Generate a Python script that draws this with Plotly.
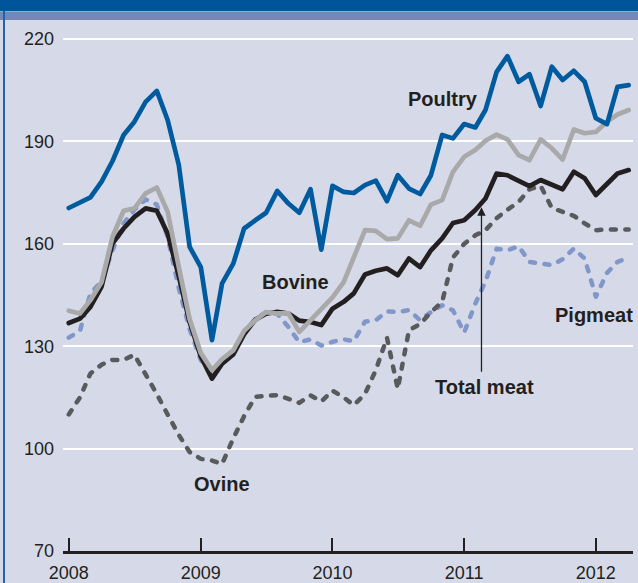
import plotly.graph_objects as go
import pandas as pd

# ---- data (monthly, Jan 2008 - Apr 2012) ----
months = [d.strftime("%Y-%m-%d") for d in pd.date_range("2008-01-01", periods=52, freq="MS")]

poultry = [170.5, 172.0, 173.6, 178.2, 184.2, 191.9, 195.8, 201.6, 204.8, 196.3,
           183.1, 159.1, 153.2, 131.8, 148.4, 154.2, 164.5, 166.9, 169.1, 175.5,
           171.8, 169.1, 176.0, 158.3, 177.0, 175.2, 174.9, 177.2, 178.5, 172.5,
           180.1, 176.2, 174.6, 180.1, 191.9, 190.9, 195.1, 194.1, 199.2, 210.4,
           215.0, 207.5, 209.7, 200.4, 211.9, 208.0, 210.7, 207.5, 196.8, 195.1,
           206.0, 206.5]

bovine = [140.4, 139.6, 143.5, 148.8, 162.0, 169.7, 170.4, 174.8, 176.5, 169.4,
          153.2, 138.0, 128.0, 123.0, 126.2, 128.8, 134.5, 137.6, 140.0, 139.6,
          139.6, 134.2, 137.6, 141.0, 144.3, 148.8, 156.2, 164.0, 163.8, 161.4,
          161.6, 166.9, 165.3, 171.5, 172.8, 181.1, 185.5, 187.5, 190.2, 192.0,
          190.6, 186.0, 184.5, 190.6, 188.0, 184.7, 193.5, 192.4, 192.8, 195.8,
          197.9, 199.2]

total_meat = [136.8, 138.1, 141.5, 147.5, 160.1, 164.5, 167.9, 170.4, 169.7, 163.0,
              150.5, 137.0, 127.0, 120.5, 124.9, 127.6, 133.5, 137.8, 139.5, 140.1,
              139.6, 137.5, 137.1, 136.2, 141.0, 143.0, 145.5, 151.0, 152.1, 152.8,
              150.8, 155.7, 153.2, 158.1, 161.6, 166.1, 166.9, 169.9, 173.3, 180.6,
              180.1, 178.5, 176.9, 178.7, 177.2, 176.0, 181.1, 179.2, 174.3, 177.7,
              180.6, 181.6]

pigmeat = [132.5, 134.5, 145.5, 149.0, 158.0, 166.0, 170.0, 173.0, 171.5, 162.0,
           147.0, 135.0, 126.0, 121.5, 125.5, 128.0, 134.0, 138.0, 140.0, 139.5,
           135.6, 131.2, 132.0, 130.2, 131.3, 132.0, 131.5, 137.2, 137.6, 140.2,
           140.0, 140.6, 137.6, 140.0, 142.0, 140.5, 134.0, 142.5, 149.0, 158.6,
           158.1, 159.3, 154.7, 154.2, 153.8, 155.5, 158.6, 155.7, 144.5, 151.5,
           154.7, 156.0]

ovine = [110.0, 115.0, 122.0, 124.6, 126.0, 126.0, 127.5, 122.0, 116.0, 110.0,
         104.0, 99.0, 97.0, 96.5, 95.5, 103.0, 109.5, 115.2, 115.5, 115.7,
         114.6, 113.4, 115.6, 113.8, 117.0, 115.0, 112.7, 116.0, 123.0, 132.5,
         117.5, 134.7, 136.5, 140.0, 143.0, 156.0, 160.0, 162.5, 164.0, 167.5,
         170.0, 172.3, 176.0, 177.0, 170.5, 169.3, 168.2, 166.0, 164.0, 164.2,
         164.2, 164.2]

year_ticks = ["2008-01-01", "2009-01-01", "2010-01-01", "2011-01-01", "2012-01-01"]
year_labels = ["2008", "2009", "2010", "2011", "2012"]
y_ticks = [70, 100, 130, 160, 190, 220]

# ---- styling ----
BG = "#D6DAE8"
TXT = "#231F20"
FONT = "Liberation Sans"

fig = go.Figure()

fig.add_trace(go.Scatter(x=months, y=pigmeat, mode="lines", name="Pigmeat",
                         line=dict(color="#8197CA", width=4.5, dash="5px,9.5px")))
fig.add_trace(go.Scatter(x=months, y=ovine, mode="lines", name="Ovine",
                         line=dict(color="#595A5C", width=4.5, dash="5px,9.5px")))
fig.add_trace(go.Scatter(x=months, y=total_meat, mode="lines", name="Total meat",
                         line=dict(color="#231F20", width=4.7)))
fig.add_trace(go.Scatter(x=months, y=bovine, mode="lines", name="Bovine",
                         line=dict(color="#A9A9AA", width=4.7)))
fig.add_trace(go.Scatter(x=months, y=poultry, mode="lines", name="Poultry",
                         line=dict(color="#005A9E", width=4.7)))

labels = [
    ("Poultry", "2010-11-04", 202.4),
    ("Bovine", "2009-09-20", 148.8),
    ("Ovine", "2009-03-02", 89.7),
    ("Pigmeat", "2011-12-28", 139.2),
    ("Total meat", "2011-02-26", 118.1),
]
annotations = []
for txt, xv, yv in labels:
    annotations.append(dict(x=xv, y=yv, xref="x", yref="y", text="<b>%s</b>" % txt,
                            showarrow=False, xanchor="center", yanchor="middle",
                            font=dict(family=FONT, size=20, color=TXT)))
# arrow to total meat
annotations.append(dict(x="2011-02-18", y=170.7, ax="2011-02-18", ay=122.1,
                        xref="x", yref="y", axref="x", ayref="y", text="",
                        showarrow=True, arrowhead=2, arrowsize=1.3, arrowwidth=1.3,
                        arrowcolor=TXT, standoff=0, startstandoff=0))

shapes = [
    # header bar
    dict(type="rect", xref="paper", yref="paper", x0=-0.2, x1=1.2, y0=1.0208, y1=1.06,
         fillcolor="#00559A", line=dict(width=0), layer="above"),
    dict(type="rect", xref="paper", yref="paper", x0=-0.2, x1=1.2, y0=1.0038, y1=1.0208,
         fillcolor="#7487B7", line=dict(width=0), layer="above"),
    dict(type="rect", xref="paper", yref="paper", x0=-0.2, x1=1.2, y0=1.0189, y1=1.0208,
         fillcolor="#93A8D2", line=dict(width=0), layer="above"),
    # left border
    dict(type="line", xref="paper", yref="paper", x0=-0.1035, x1=-0.1035, y0=1.0208, y1=-0.1,
         line=dict(color="#2563A9", width=2), layer="above"),
]

fig.update_layout(
    width=638, height=583,
    margin=dict(l=63, r=5, t=22, b=32, autoexpand=False),
    paper_bgcolor=BG, plot_bgcolor=BG,
    showlegend=False,
    font=dict(family=FONT, size=18, color=TXT),
    annotations=annotations,
    shapes=shapes,
    xaxis=dict(type="date", range=["2007-12-16", "2012-04-13"],
               tickmode="array", tickvals=year_ticks, ticktext=year_labels,
               ticks="inside", ticklen=13, tickwidth=2, tickcolor=TXT,
               showline=True, linecolor=TXT, linewidth=2.5,
               showgrid=False, zeroline=False, automargin=False,
               tickfont=dict(family=FONT, size=18, color=TXT),
               ticklabelstandoff=4),
    yaxis=dict(range=[70, 225], tickmode="array", tickvals=y_ticks,
               showgrid=True, gridcolor="#FFFFFF", gridwidth=1.6,
               zeroline=False, showline=False, ticks="", automargin=False,
               tickfont=dict(family=FONT, size=18, color=TXT),
               ticklabelstandoff=8),
)

css = """
var s = document.createElement('style');
s.innerHTML = 'html, body { margin: 0; padding: 0; overflow: hidden; } .scatterlayer .js-line { stroke-linecap: round; stroke-linejoin: round; }';
document.head.appendChild(s);
"""
fig.write_html("out.html", post_script=css, config={"displayModeBar": False})
